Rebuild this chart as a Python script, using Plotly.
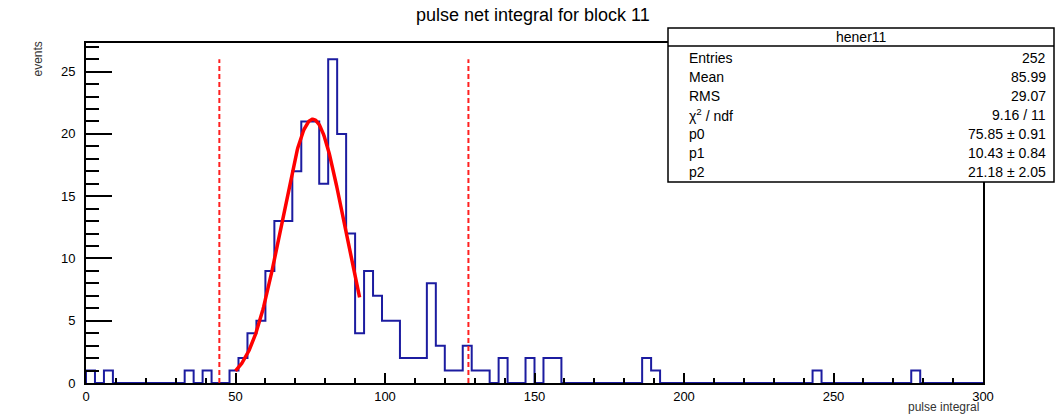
import numpy as np
import plotly.graph_objects as go

# Histogram: 100 bins of width 3 over [0, 300]; only non-empty bins listed
bin_width = 3
x_min, x_max = 0, 300
bin_low = [0, 6, 33, 39, 48, 51, 54, 57, 60, 63, 66, 69, 72, 75, 78, 81, 84, 87,
           90, 93, 96, 99, 102, 105, 108, 111, 114, 117, 120, 123, 126, 129, 132,
           138, 147, 153, 156, 186, 189, 243, 276]
bin_count = [1, 1, 1, 1, 1, 2, 4, 5, 9, 13, 13, 17, 21, 21, 16, 26, 20, 12,
             4, 9, 7, 5, 5, 2, 2, 2, 8, 3, 1, 1, 3, 1, 1,
             2, 2, 2, 2, 2, 1, 1, 1]

# Gaussian fit result (p0 = mean, p1 = sigma, p2 = amplitude) and fit range
fit_p0, fit_p1, fit_p2 = 75.85, 10.43, 21.18
fit_range = (50.0, 91.5)

# Integration window markers
window_lines = [44.6, 127.9]

stats_title = "hener11"
stats_labels = ["Entries", "Mean", "RMS", "χ<sup>2</sup> / ndf", "p0", "p1", "p2"]
stats_values = ["252", "85.99", "29.07", "9.16 / 11",
                "75.85 ± 0.91", "10.43 ± 0.84", "21.18 ± 2.05"]

# Full bin contents
n_bins = (x_max - x_min) // bin_width
counts = [0] * n_bins
for lo, c in zip(bin_low, bin_count):
    counts[(lo - x_min) // bin_width] = c
edges = [x_min + i * bin_width for i in range(n_bins)]

step_x = [x_min] + edges + [x_max]
step_y = [0] + counts + [0]

fx = np.linspace(fit_range[0], fit_range[1], 200)
fy = fit_p2 * np.exp(-0.5 * ((fx - fit_p0) / fit_p1) ** 2)

FONT = "Liberation Sans, Arial, Helvetica, sans-serif"
ymax = max(counts) * 1.05

fig = go.Figure()
fig.add_trace(go.Scatter(x=step_x, y=step_y, mode="lines", line_shape="hv",
                         line=dict(color="#1c1ca0", width=2), hoverinfo="skip"))
for xv in window_lines:
    fig.add_trace(go.Scatter(x=[xv, xv], y=[0, max(counts)], mode="lines",
                             line=dict(color="#ff2020", width=2, dash="5px,3px"),
                             hoverinfo="skip"))
fig.add_trace(go.Scatter(x=fx, y=fy, mode="lines",
                         line=dict(color="#ff0000", width=3.5), hoverinfo="skip"))

axis_common = dict(showgrid=False, zeroline=False, showline=True, mirror=True,
                   linecolor="black", linewidth=2, ticks="inside",
                   tickcolor="black", tickwidth=1.5,
                   tickfont=dict(family=FONT, size=13, color="black"))

fig.update_xaxes(range=[x_min, x_max], tick0=0, dtick=50, ticklen=10,
                 minor=dict(dtick=10, ticklen=5, ticks="inside",
                            tickcolor="black", tickwidth=1.5),
                 **axis_common)
fig.update_yaxes(range=[0, ymax], tick0=0, dtick=5, ticklen=26,
                 ticklabelstandoff=6,
                 minor=dict(dtick=1, ticklen=13, ticks="inside",
                            tickcolor="black", tickwidth=1.5),
                 **axis_common)

L, R, T, B = 86, 81, 43, 32
W, H = 1064, 415
pw, ph = W - L - R, H - T - B


def px(xp):
    return (xp - L) / pw


def py(yp):
    return (H - B - yp) / ph


annotations = [
    dict(text="pulse net integral for block 11", x=px(533), y=py(15),
         xref="paper", yref="paper", showarrow=False, xanchor="center",
         yanchor="middle", font=dict(family=FONT, size=18, color="black")),
    dict(text="events", x=px(37), y=py(40), xref="paper", yref="paper",
         showarrow=False, textangle=-90, xanchor="center", yanchor="top",
         font=dict(family=FONT, size=12, color="#333")),
    dict(text="pulse integral", x=px(981), y=py(407), xref="paper", yref="paper",
         showarrow=False, xanchor="right", yanchor="middle",
         font=dict(family=FONT, size=12, color="#333")),
    dict(text=stats_title, x=px(861), y=py(37), xref="paper", yref="paper",
         showarrow=False, xanchor="center", yanchor="middle",
         font=dict(family=FONT, size=14, color="black")),
]
row_y = [58, 77, 96, 115, 134, 153, 172]
for lab, val, yy in zip(stats_labels, stats_values, row_y):
    annotations.append(dict(text=lab, x=px(687), y=py(yy), xref="paper",
                            yref="paper", showarrow=False, xanchor="left",
                            yanchor="middle",
                            font=dict(family=FONT, size=14, color="black")))
    annotations.append(dict(text=val, x=px(1048), y=py(yy), xref="paper",
                            yref="paper", showarrow=False, xanchor="right",
                            yanchor="middle",
                            font=dict(family=FONT, size=14, color="black")))

shapes = [
    dict(type="rect", xref="paper", yref="paper", x0=px(668), x1=px(1054),
         y0=py(182), y1=py(28), line=dict(color="black", width=1.5),
         fillcolor="white", layer="above"),
    dict(type="line", xref="paper", yref="paper", x0=px(668), x1=px(1054),
         y0=py(46), y1=py(46), line=dict(color="black", width=1.5),
         layer="above"),
]

fig.update_layout(width=W, height=H, margin=dict(l=L, r=R, t=T, b=B),
                  plot_bgcolor="white", paper_bgcolor="white",
                  showlegend=False, annotations=annotations, shapes=shapes)

fig.write_html("out.html")
